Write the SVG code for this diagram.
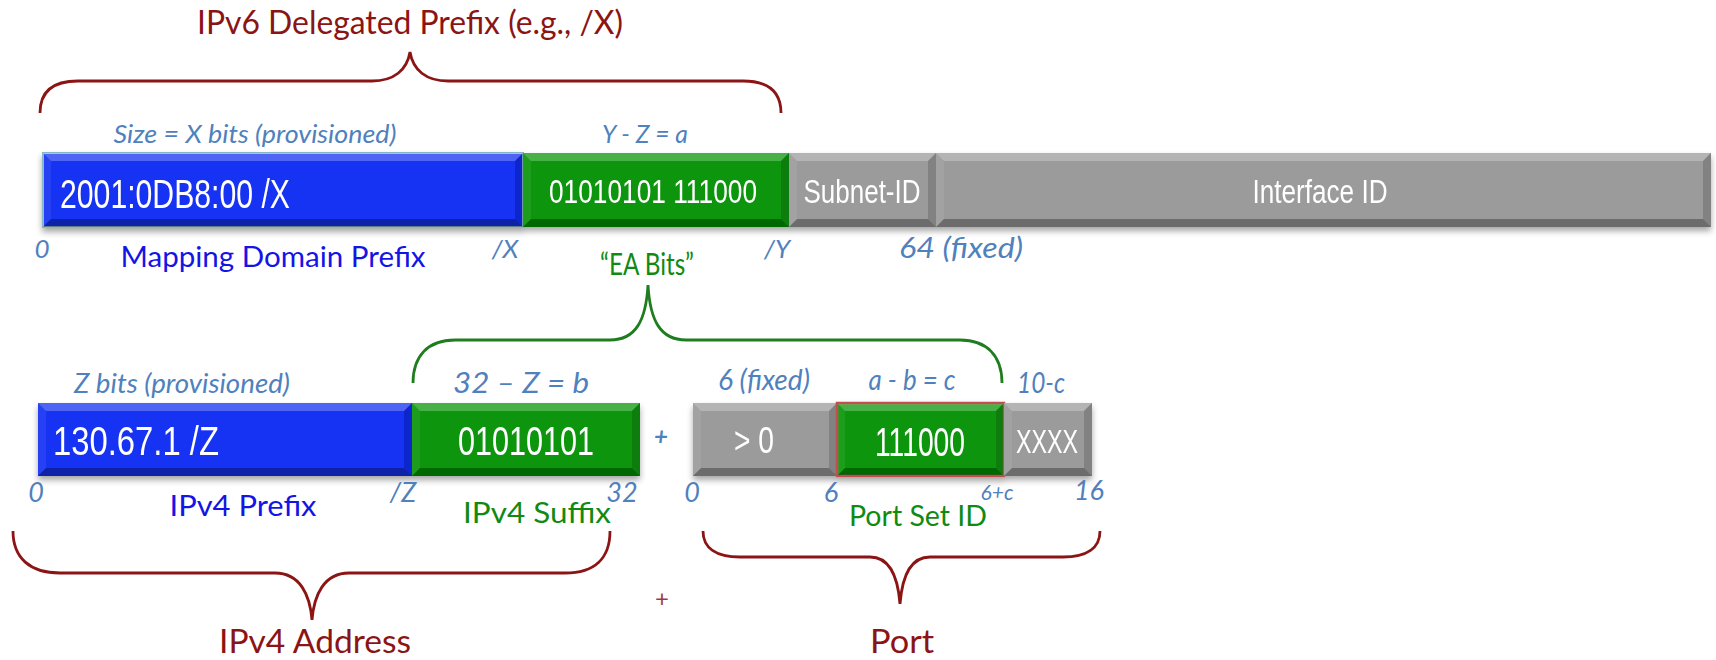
<svg xmlns="http://www.w3.org/2000/svg" width="1716" height="660" viewBox="0 0 1716 660">
<defs>
<filter id="sh" x="-5%" y="-20%" width="110%" height="150%">
<feDropShadow dx="0" dy="4" stdDeviation="3" flood-color="#000" flood-opacity="0.35"/>
</filter>
<style>
.blue{fill:#1530F2}
.green{fill:#0A960A}
.gray{fill:#9B9B9B}
.bt{fill:#fff;fill-opacity:0.25}
.bl{fill:#fff;fill-opacity:0.08}
.br{fill:#000;fill-opacity:0.16}
.bb{fill:#000;fill-opacity:0.30}
.bar{font-family:"Liberation Sans Narrow","Liberation Sans",Arial,sans-serif;fill:#fff}
.lab{font-family:Lato,"Open Sans",sans-serif;font-style:italic;fill:#4F81BD}
.cap{font-family:Lato,"Open Sans",sans-serif}
.red{fill:#8B1414}
.brace{fill:none;stroke-width:2.8}
</style>
</defs>

<g id="title">
<text class="cap red" x="410" y="34" font-size="33" text-anchor="middle" textLength="426" lengthAdjust="spacingAndGlyphs">IPv6 Delegated Prefix (e.g., /X)</text>
</g>

<g id="connectors">
<path id="brace-ipv6" class="brace" stroke="#8B1414" d="M40,113 C40,92 52,81 78,81 L372,81 C394,81 407,70 410,52 C413,70 426,81 448,81 L743,81 C769,81 781,92 781,113"/>
<path id="brace-ea" class="brace" stroke="#1E7D1E" d="M413,383 C413,356 428,340 455,340 L610,340 C636,340 646,320 648,285 C650,320 660,340 686,340 L960,340 C987,340 1002,356 1002,383"/>
<path id="brace-ipv4" class="brace" stroke="#8B1414" d="M13,531 C13,558 30,573 60,573 L275,573 C300,573 310,595 312,620 C314,595 324,573 349,573 L565,573 C595,573 610,558 610,531"/>
<path id="brace-port" class="brace" stroke="#8B1414" d="M703,531 C703,548 716,557 740,557 L870,557 C890,557 898,578 900,604 C902,578 910,557 930,557 L1063,557 C1087,557 1100,548 1100,531"/>
</g>

<g id="ipv6-row" filter="url(#sh)">
<g id="mapping-prefix">
<rect class="blue" x="43" y="153" width="480" height="74" stroke="#86B6C6" stroke-width="2"/>
<polygon class="bt" points="43,153 523,153 515,161 51,161"/>
<polygon class="bl" points="43,153 51,161 51,219 43,227"/>
<polygon class="br" points="523,153 523,227 515,219 515,161"/>
<polygon class="bb" points="43,227 51,219 515,219 523,227"/>
<text class="bar" x="60" y="208" font-size="40" textLength="230" lengthAdjust="spacingAndGlyphs">2001:0DB8:00 /X</text>
</g>
<g id="ea-bits">
<rect class="green" x="523" y="153" width="266" height="74"/>
<polygon class="bt" points="523,153 789,153 781,161 531,161"/>
<polygon class="bl" points="523,153 531,161 531,219 523,227"/>
<polygon class="br" points="789,153 789,227 781,219 781,161"/>
<polygon class="bb" points="523,227 531,219 781,219 789,227"/>
<text class="bar" x="653" y="203" font-size="34" text-anchor="middle" textLength="208" lengthAdjust="spacingAndGlyphs">01010101 111000</text>
</g>
<g id="subnet-id">
<rect class="gray" x="789" y="153" width="147" height="74"/>
<polygon class="bt" points="789,153 936,153 928,161 797,161"/>
<polygon class="bl" points="789,153 797,161 797,219 789,227"/>
<polygon class="br" points="936,153 936,227 928,219 928,161"/>
<polygon class="bb" points="789,227 797,219 928,219 936,227"/>
<text class="bar" x="862" y="203" font-size="34" text-anchor="middle" textLength="117" lengthAdjust="spacingAndGlyphs">Subnet-ID</text>
</g>
<g id="interface-id">
<rect class="gray" x="936" y="153" width="775" height="74"/>
<polygon class="bt" points="936,153 1711,153 1703,161 944,161"/>
<polygon class="bl" points="936,153 944,161 944,219 936,227"/>
<polygon class="br" points="1711,153 1711,227 1703,219 1703,161"/>
<polygon class="bb" points="936,227 944,219 1703,219 1711,227"/>
<text class="bar" x="1320" y="203" font-size="34" text-anchor="middle" textLength="135" lengthAdjust="spacingAndGlyphs">Interface ID</text>
</g>
</g>

<g id="ipv6-labels">
<text class="lab" x="255" y="143" font-size="26" text-anchor="middle" textLength="283" lengthAdjust="spacingAndGlyphs">Size = X bits (provisioned)</text>
<text class="lab" x="645" y="143" font-size="26" text-anchor="middle" textLength="86" lengthAdjust="spacingAndGlyphs">Y - Z = a</text>
<text class="lab" x="42" y="258" font-size="26" text-anchor="middle">0</text>
<text class="lab" x="505" y="258" font-size="26" text-anchor="middle">/X</text>
<text class="lab" x="777" y="258" font-size="26" text-anchor="middle">/Y</text>
<text class="lab" x="961" y="258" font-size="28" text-anchor="middle" textLength="124" lengthAdjust="spacingAndGlyphs">64 (fixed)</text>
<text class="cap" x="273" y="267" font-size="29" fill="#1414E6" text-anchor="middle" textLength="305" lengthAdjust="spacingAndGlyphs">Mapping Domain Prefix</text>
<text class="cap" x="647" y="275" font-size="30" fill="#118A11" text-anchor="middle" textLength="94" lengthAdjust="spacingAndGlyphs">“EA Bits”</text>
</g>

<g id="ipv4-row" filter="url(#sh)">
<g id="ipv4-prefix">
<rect class="blue" x="38" y="403" width="374" height="73"/>
<polygon class="bt" points="38,403 412,403 404,411 46,411"/>
<polygon class="bl" points="38,403 46,411 46,468 38,476"/>
<polygon class="br" points="412,403 412,476 404,468 404,411"/>
<polygon class="bb" points="38,476 46,468 404,468 412,476"/>
<text class="bar" x="53" y="455" font-size="40" textLength="166" lengthAdjust="spacingAndGlyphs">130.67.1 /Z</text>
</g>
<g id="ipv4-suffix">
<rect class="green" x="412" y="403" width="228" height="73"/>
<polygon class="bt" points="412,403 640,403 632,411 420,411"/>
<polygon class="bl" points="412,403 420,411 420,468 412,476"/>
<polygon class="br" points="640,403 640,476 632,468 632,411"/>
<polygon class="bb" points="412,476 420,468 632,468 640,476"/>
<text class="bar" x="526" y="455" font-size="40" text-anchor="middle" textLength="136" lengthAdjust="spacingAndGlyphs">01010101</text>
</g>
<g id="port-high">
<rect class="gray" x="693" y="403" width="144" height="73"/>
<polygon class="bt" points="693,403 837,403 829,411 701,411"/>
<polygon class="bl" points="693,403 701,411 701,468 693,476"/>
<polygon class="br" points="837,403 837,476 829,468 829,411"/>
<polygon class="bb" points="693,476 701,468 829,468 837,476"/>
<text class="bar" x="754" y="453" font-size="36" text-anchor="middle" textLength="40" lengthAdjust="spacingAndGlyphs">&gt; 0</text>
</g>
<g id="psid">
<rect class="green" x="837" y="403" width="167" height="73" stroke="#C0504D" stroke-width="2.5"/>
<polygon class="bt" points="838,404 1003,404 996,411 845,411"/>
<polygon class="bl" points="838,404 845,411 845,468 838,475"/>
<polygon class="br" points="1003,404 1003,475 996,468 996,411"/>
<polygon class="bb" points="838,475 845,468 996,468 1003,475"/>
<text class="bar" x="920" y="456" font-size="40" text-anchor="middle" textLength="90" lengthAdjust="spacingAndGlyphs">111000</text>
</g>
<g id="port-low">
<rect class="gray" x="1004" y="403" width="88" height="73"/>
<polygon class="bt" points="1004,403 1092,403 1084,411 1012,411"/>
<polygon class="bl" points="1004,403 1012,411 1012,468 1004,476"/>
<polygon class="br" points="1092,403 1092,476 1084,468 1084,411"/>
<polygon class="bb" points="1004,476 1012,468 1084,468 1092,476"/>
<text class="bar" x="1047" y="453" font-size="33" text-anchor="middle" textLength="62" lengthAdjust="spacingAndGlyphs">XXXX</text>
</g>
</g>

<g id="ipv4-labels">
<text class="lab" x="182" y="393" font-size="27" text-anchor="middle" textLength="216" lengthAdjust="spacingAndGlyphs">Z bits (provisioned)</text>
<text class="lab" x="521" y="393" font-size="29" text-anchor="middle" textLength="136" lengthAdjust="spacingAndGlyphs">32 – Z = b</text>
<text class="lab" x="764" y="390" font-size="28" text-anchor="middle" textLength="92" lengthAdjust="spacingAndGlyphs">6 (fixed)</text>
<text class="lab" x="912" y="390" font-size="28" text-anchor="middle" textLength="87" lengthAdjust="spacingAndGlyphs">a - b = c</text>
<text class="lab" x="1041" y="393" font-size="28" text-anchor="middle" textLength="48" lengthAdjust="spacingAndGlyphs">10-c</text>
<text class="lab" x="661" y="445" font-size="24" text-anchor="middle" font-style="normal" font-weight="bold">+</text>
<text class="lab" x="36" y="502" font-size="27" text-anchor="middle">0</text>
<text class="lab" x="403" y="502" font-size="27" text-anchor="middle">/Z</text>
<text class="lab" x="622" y="502" font-size="27" text-anchor="middle">32</text>
<text class="lab" x="692" y="502" font-size="27" text-anchor="middle">0</text>
<text class="lab" x="831" y="502" font-size="27" text-anchor="middle">6</text>
<text class="lab" x="997" y="500" font-size="21" text-anchor="middle">6+c</text>
<text class="lab" x="1089" y="500" font-size="27" text-anchor="middle">16</text>
<text class="cap" x="243" y="516" font-size="29" fill="#1414E6" text-anchor="middle" textLength="147" lengthAdjust="spacingAndGlyphs">IPv4 Prefix</text>
<text class="cap" x="537" y="523" font-size="29" fill="#118A11" text-anchor="middle" textLength="148" lengthAdjust="spacingAndGlyphs">IPv4 Suffix</text>
<text class="cap" x="918" y="526" font-size="29" fill="#118A11" text-anchor="middle" textLength="138" lengthAdjust="spacingAndGlyphs">Port Set ID</text>
<text class="cap red" x="662" y="607" font-size="24" text-anchor="middle" fill-opacity="0.85">+</text>
<text class="cap red" x="315" y="653" font-size="33" text-anchor="middle" textLength="192" lengthAdjust="spacingAndGlyphs">IPv4 Address</text>
<text class="cap red" x="902" y="653" font-size="33" text-anchor="middle" textLength="64" lengthAdjust="spacingAndGlyphs">Port</text>
</g>
</svg>
